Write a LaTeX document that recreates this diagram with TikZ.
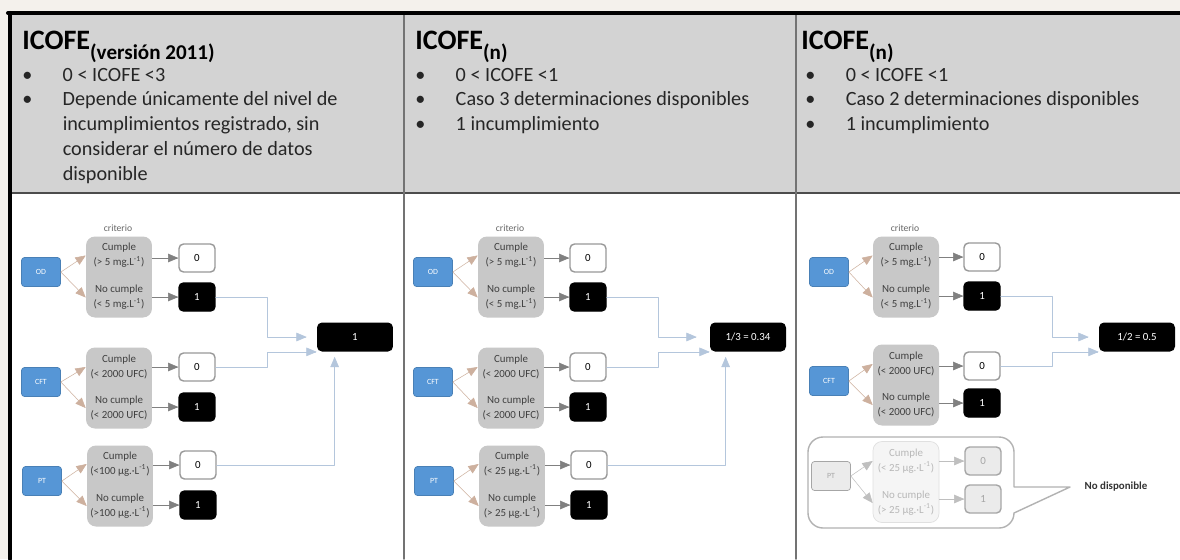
\documentclass[tikz,border=0pt]{standalone}
\usepackage{fontspec}
\setmainfont{Carlito}
\usepackage{pgf,tikz}
\usetikzlibrary{arrows}

\definecolor{paper}{RGB}{244,241,236}
\definecolor{headgray}{RGB}{211,211,211}
\definecolor{odblue}{RGB}{86,150,214}
\definecolor{critgray}{RGB}{200,200,200}
\definecolor{tanline}{RGB}{205,176,158}
\definecolor{linkblue}{RGB}{180,198,220}

\begin{document}
\begin{tikzpicture}[x=0.02cm,y=-0.02cm,line cap=round,line join=round,>=triangle 45,
  title/.style={anchor=base west,inner sep=0pt,font=\fontsize{16}{18}\selectfont\bfseries},
  bullets/.style={anchor=base west,inner sep=0pt,text=black!85,font=\fontsize{11.5}{14.2}\selectfont},
  crit/.style={inner sep=0pt,text=black!60,font=\fontsize{5.5}{6}\selectfont},
  param/.style={draw=odblue!85!black,fill=odblue,rounded corners=0.6mm,minimum width=7.8mm,minimum height=5.8mm,inner sep=0pt,text=white,font=\fontsize{4.5}{5}\selectfont},
  critbox/.style={fill=critgray,rounded corners=1.8mm,minimum width=13.2mm,minimum height=16.2mm,inner sep=0pt},
  crittext/.style={align=center,inner sep=0pt,text=black!75,font=\fontsize{6.2}{8.4}\selectfont},
  okbox/.style={draw=black!40,line width=0.8pt,fill=white,rounded corners=0.9mm,minimum width=7.2mm,minimum height=5.6mm,inner sep=0pt,font=\fontsize{6.2}{7}\selectfont},
  failbox/.style={okbox,draw=black,fill=black,text=white},
  resbox/.style={fill=black,rounded corners=1mm,minimum width=15.2mm,minimum height=5.8mm,inner sep=0pt,text=white,font=\fontsize{6.2}{7}\selectfont},
  branch/.style={draw=tanline,line width=0.3pt,->},
  tolevel/.style={draw=black!50,line width=0.3pt,->},
  tofinal/.style={draw=linkblue,line width=0.3pt,->},
  fparam/.style={param,draw=black!35,fill=black!8,text=black!35},
  fcritbox/.style={critbox,draw=black!12,fill=black!4},
  fcrittext/.style={crittext,text=black!28},
  fbox/.style={okbox,draw=black!35,fill=black!8,text=black!35},
  fbranch/.style={draw=black!25,line width=0.3pt,->}]
\useasboundingbox (0,0) rectangle (1180,559);
% frame
\fill[paper] (0,0) rectangle (1180,559);
\fill[headgray] (10,13) rectangle (1180,193);
\fill[white] (10,193) rectangle (1180,559);
\draw[black!70,line width=1.2pt] (10,193) -- (1180,193);
\draw[black!55,line width=0.9pt] (404,13) -- (404,559);
\draw[black!55,line width=0.9pt] (796,13) -- (796,559);
\draw[black,line width=2.3pt] (8,13) -- (1180,13);
\draw[black,line width=2.3pt] (10,13) -- (10,559);
% headers
\node[title] (t1) at (22,49) {ICOFE\raisebox{-6pt}{\fontsize{12}{14}\selectfont(versión 2011)}};
\node[title] (t2) at (415,49) {ICOFE\raisebox{-6pt}{\fontsize{12}{14}\selectfont(n)}};
\node[title] (t3) at (801,49) {ICOFE\raisebox{-6pt}{\fontsize{12}{14}\selectfont(n)}};
\node[bullets] (b1) at (22,81) {\begin{tabular}[t]{@{}p{23pt}@{}l@{}}
•& 0 < ICOFE <3\\
•& Depende únicamente del nivel de\\
 & incumplimientos registrado, sin\\
 & considerar el número de datos\\
 & disponible
\end{tabular}};
\node[bullets] (b2) at (415,81) {\begin{tabular}[t]{@{}p{23pt}@{}l@{}}
•& 0 < ICOFE <1\\
•& Caso 3 determinaciones disponibles\\
•& 1 incumplimiento
\end{tabular}};
\node[bullets] (b3) at (805,81) {\begin{tabular}[t]{@{}p{23pt}@{}l@{}}
•& 0 < ICOFE <1\\
•& Caso 2 determinaciones disponibles\\
•& 1 incumplimiento
\end{tabular}};
% panel 1
\node[crit] (crit1) at (118,228) {criterio};
\node[param] (od1) at (41,272) {OD};
\node[critbox] (god1) at (119,277) {};
\node[crittext] (cod1) at (119,255.5) {Cumple\\(> 5 mg.L\textsuperscript{-1})};
\node[crittext] (nod1) at (119,297.5) {No cumple\\(< 5 mg.L\textsuperscript{-1})};
\node[okbox] (zod1) at (197,258) {0};
\node[failbox] (uod1) at (197,297) {1};
\node[param] (cft1) at (41,382) {CFT};
\node[critbox] (gcft1) at (119,388) {};
\node[crittext] (ccft1) at (119,367) {Cumple\\(< 2000 UFC)};
\node[crittext] (ncft1) at (119,408) {No cumple\\(< 2000 UFC)};
\node[okbox] (zcft1) at (197,367) {0};
\node[failbox] (ucft1) at (197,407) {1};
\node[param] (pt1) at (42,481) {PT};
\node[critbox] (gpt1) at (120,486) {};
\node[crittext] (cpt1) at (120,464) {Cumple\\(<100 µg.·L\textsuperscript{-1})};
\node[crittext] (npt1) at (120,506) {No cumple\\(>100 µg.·L\textsuperscript{-1})};
\node[okbox] (zpt1) at (198,465) {0};
\node[failbox] (upt1) at (198,505) {1};
\node[resbox] (fin1) at (355,337) {1};
\draw[branch] (od1.east) -- (god1.west |- cod1);
\draw[branch] (od1.east) -- (god1.west |- nod1);
\draw[branch] (cft1.east) -- (gcft1.west |- ccft1);
\draw[branch] (cft1.east) -- (gcft1.west |- ncft1);
\draw[branch] (pt1.east) -- (gpt1.west |- cpt1);
\draw[branch] (pt1.east) -- (gpt1.west |- npt1);
\draw[tolevel] (god1.east |- zod1) -- (zod1);
\draw[tolevel] (god1.east |- uod1) -- (uod1);
\draw[tolevel] (gcft1.east |- zcft1) -- (zcft1);
\draw[tolevel] (gcft1.east |- ucft1) -- (ucft1);
\draw[tolevel] (gpt1.east |- zpt1) -- (zpt1);
\draw[tolevel] (gpt1.east |- upt1) -- (upt1);
\draw[tofinal] (uod1.east) -- ++(52,0) |- ([xshift=-2mm]fin1.west);
\draw[tofinal] (zcft1.east) -- ++(52,0) |- (fin1.south west);
\draw[tofinal] (zpt1.east) -| ([xshift=3.6mm,yshift=-1mm]fin1.south west);
% panel 2
\node[crit] (crit2) at (510,228) {criterio};
\node[param] (od2) at (433,272) {OD};
\node[critbox] (god2) at (511,277) {};
\node[crittext] (cod2) at (511,255.5) {Cumple\\(> 5 mg.L\textsuperscript{-1})};
\node[crittext] (nod2) at (511,297.5) {No cumple\\(< 5 mg.L\textsuperscript{-1})};
\node[okbox] (zod2) at (588,258) {0};
\node[failbox] (uod2) at (588,297) {1};
\node[param] (cft2) at (433,382) {CFT};
\node[critbox] (gcft2) at (511,388) {};
\node[crittext] (ccft2) at (511,367) {Cumple\\(< 2000 UFC)};
\node[crittext] (ncft2) at (511,408) {No cumple\\(< 2000 UFC)};
\node[okbox] (zcft2) at (588,367) {0};
\node[failbox] (ucft2) at (588,407) {1};
\node[param] (pt2) at (434,481) {PT};
\node[critbox] (gpt2) at (512,486) {};
\node[crittext] (cpt2) at (512,464) {Cumple\\(< 25 µg.·L\textsuperscript{-1})};
\node[crittext] (npt2) at (512,506) {No cumple\\(> 25 µg.·L\textsuperscript{-1})};
\node[okbox] (zpt2) at (589,465) {0};
\node[failbox] (upt2) at (589,505) {1};
\node[resbox] (fin2) at (748,337) {1/3 = 0.34};
\draw[branch] (od2.east) -- (god2.west |- cod2);
\draw[branch] (od2.east) -- (god2.west |- nod2);
\draw[branch] (cft2.east) -- (gcft2.west |- ccft2);
\draw[branch] (cft2.east) -- (gcft2.west |- ncft2);
\draw[branch] (pt2.east) -- (gpt2.west |- cpt2);
\draw[branch] (pt2.east) -- (gpt2.west |- npt2);
\draw[tolevel] (god2.east |- zod2) -- (zod2);
\draw[tolevel] (god2.east |- uod2) -- (uod2);
\draw[tolevel] (gcft2.east |- zcft2) -- (zcft2);
\draw[tolevel] (gcft2.east |- ucft2) -- (ucft2);
\draw[tolevel] (gpt2.east |- zpt2) -- (zpt2);
\draw[tolevel] (gpt2.east |- upt2) -- (upt2);
\draw[tofinal] (uod2.east) -- ++(52,0) |- ([xshift=-2.6mm]fin2.west);
\draw[tofinal] (zcft2.east) -- ++(52,0) |- (fin2.south west);
\draw[tofinal] (zpt2.east) -| ([xshift=3.2mm,yshift=-1mm]fin2.south west);
% panel 3
\node[crit] (crit3) at (905,228) {criterio};
\node[param] (od3) at (829,272) {OD};
\node[critbox] (god3) at (906,277) {};
\node[crittext] (cod3) at (906,255.5) {Cumple\\(> 5 mg.L\textsuperscript{-1})};
\node[crittext] (nod3) at (906,297.5) {No cumple\\(< 5 mg.L\textsuperscript{-1})};
\node[okbox] (zod3) at (982,257) {0};
\node[failbox] (uod3) at (982,296) {1};
\node[param] (cft3) at (829,381) {CFT};
\node[critbox] (gcft3) at (906,385) {};
\node[crittext] (ccft3) at (906,364) {Cumple\\(< 2000 UFC)};
\node[crittext] (ncft3) at (906,405) {No cumple\\(< 2000 UFC)};
\node[okbox] (zcft3) at (982,366) {0};
\node[failbox] (ucft3) at (982,403) {1};
\node[resbox] (fin3) at (1137,337) {1/2 = 0.5};
\draw[branch] (od3.east) -- (god3.west |- cod3);
\draw[branch] (od3.east) -- (god3.west |- nod3);
\draw[branch] (cft3.east) -- (gcft3.west |- ccft3);
\draw[branch] (cft3.east) -- (gcft3.west |- ncft3);
\draw[tolevel] (god3.east |- zod3) -- (zod3);
\draw[tolevel] (god3.east |- uod3) -- (uod3);
\draw[tolevel] (gcft3.east |- zcft3) -- (zcft3);
\draw[tolevel] (gcft3.east |- ucft3) -- (ucft3);
\draw[tofinal] (uod3.east) -- ++(52,0) |- ([xshift=-2mm]fin3.west);
\draw[tofinal] (zcft3.east) -- ++(52,0) |- (fin3.south west);
% PT not available
\draw[black!30,line width=0.8pt] (1070,487) -- (1014,487) [rounded corners=3mm] -- (1014,437) -- (808,437) -- (808,528) -- (1014,528) [sharp corners] -- (1014,513) -- cycle;
\node[fparam] (pt3) at (831,476) {PT};
\node[fcritbox] (gpt3) at (906,482) {};
\node[fcrittext] (cpt3) at (906,461) {Cumple\\(< 25 µg.·L\textsuperscript{-1})};
\node[fcrittext] (npt3) at (906,503) {No cumple\\(> 25 µg.·L\textsuperscript{-1})};
\node[fbox] (zpt3) at (983,461) {0};
\node[fbox] (upt3) at (983,499) {1};
\draw[fbranch] (pt3.east) -- (gpt3.west |- cpt3);
\draw[fbranch] (pt3.east) -- (gpt3.west |- npt3);
\draw[fbranch] (gpt3.east |- zpt3) -- (zpt3);
\draw[fbranch] (gpt3.east |- upt3) -- (upt3);
\node[inner sep=0pt,text=black!80,font=\fontsize{6.2}{7}\selectfont\bfseries] (nodisp) at (1116,487) {No disponible};
\end{tikzpicture}
\end{document}
